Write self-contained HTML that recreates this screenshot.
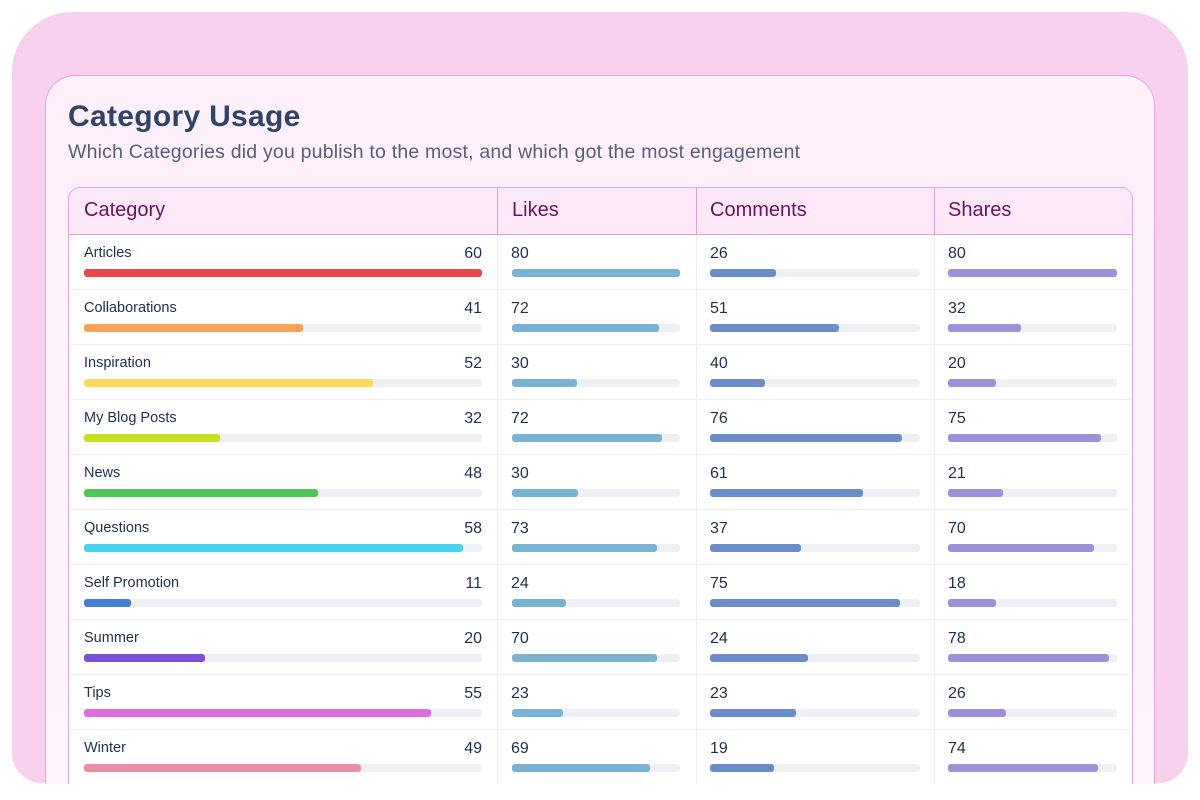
<!DOCTYPE html>
<html><head><meta charset="utf-8"><style>
body{margin:0;width:1200px;height:800px;background:#fff;position:relative;overflow:hidden;font-family:"Liberation Sans",sans-serif}
.outer{position:absolute;left:12px;top:12px;width:1176px;height:771px;background:#f7d0ee;border-radius:60px 60px 30px 30px}
.card{position:absolute;left:45px;top:75px;width:1108px;height:720px;background:linear-gradient(#fdf0fb,#fdf3fb);border:1px solid #e6a6dc;border-bottom:none;border-radius:30px 30px 0 0}
.t{position:absolute;left:68px;top:100px;font-size:30px;font-weight:bold;color:#2f4469;letter-spacing:0.3px;white-space:nowrap}
.s{position:absolute;left:68px;top:141px;font-size:19.5px;color:#56607a;letter-spacing:0.2px;white-space:nowrap}
.tbl{position:absolute;left:68px;top:187px;width:1063px;height:597px;background:#fff;border:1px solid #e4a8dc;border-bottom:none;border-radius:12px 12px 0 0;overflow:hidden}
.hd{position:absolute;left:0;top:0;width:1063px;height:46px;background:#fde8f9;border-bottom:1px solid #dca2d4}
.hd span{position:absolute;top:11px;font-size:20px;color:#6b1458;white-space:nowrap}
.vl{position:absolute;top:0;width:1px;height:597px;background:#eceef0}
.vh{position:absolute;top:0;width:1px;height:46px;background:#dca2d4}
.hl{position:absolute;left:0;width:1063px;height:1px;background:#eceef0}
.l{position:absolute;font-size:14.5px;color:#1f2f4f;line-height:18px;white-space:nowrap;margin-top:-1px}
.n{position:absolute;font-size:16px;color:#1f2f4f;line-height:18px;white-space:nowrap}
.tr{position:absolute;height:8px;background:#eef0f3;border-radius:3px}
.f{position:absolute;left:0;top:0;height:8px;border-radius:3px}
</style></head><body>
<div class="outer"></div>
<div class="card"></div>
<div class="t">Category Usage</div>
<div class="s">Which Categories did you publish to the most, and which got the most engagement</div>
<div class="tbl">
<div class="hd"><span style="left:15px">Category</span><span style="left:443px">Likes</span><span style="left:641px">Comments</span><span style="left:879px">Shares</span></div>
<div class="vh" style="left:428px"></div><div class="vh" style="left:627px"></div><div class="vh" style="left:865px"></div>
<div class="vl" style="left:428px;top:47px"></div><div class="vl" style="left:627px;top:47px"></div><div class="vl" style="left:865px;top:47px"></div>
</div>
<div style="position:absolute;left:0;top:0">
<div class="hl" style="position:absolute;left:69px;top:289px;width:1062px"></div>
<div class="hl" style="position:absolute;left:69px;top:344px;width:1062px"></div>
<div class="hl" style="position:absolute;left:69px;top:399px;width:1062px"></div>
<div class="hl" style="position:absolute;left:69px;top:454px;width:1062px"></div>
<div class="hl" style="position:absolute;left:69px;top:509px;width:1062px"></div>
<div class="hl" style="position:absolute;left:69px;top:564px;width:1062px"></div>
<div class="hl" style="position:absolute;left:69px;top:619px;width:1062px"></div>
<div class="hl" style="position:absolute;left:69px;top:674px;width:1062px"></div>
<div class="hl" style="position:absolute;left:69px;top:729px;width:1062px"></div>

<div class="l" style="left:84px;top:245px">Articles</div><div class="n" style="left:440px;top:245px;width:42px;text-align:right">60</div>
<div class="tr" style="left:84px;top:269px;width:398px"><div class="f" style="width:398px;background:#e8474c"></div></div>
<div class="n" style="left:511px;top:245px">80</div><div class="tr" style="left:512px;top:269px;width:168px"><div class="f" style="width:168px;background:#78b3d3"></div></div>
<div class="n" style="left:710px;top:245px">26</div><div class="tr" style="left:710px;top:269px;width:210px"><div class="f" style="width:66px;background:#6a8cc8"></div></div>
<div class="n" style="left:948px;top:245px">80</div><div class="tr" style="left:948px;top:269px;width:169px"><div class="f" style="width:169px;background:#9e8fd9"></div></div>

<div class="l" style="left:84px;top:300px">Collaborations</div><div class="n" style="left:440px;top:300px;width:42px;text-align:right">41</div>
<div class="tr" style="left:84px;top:324px;width:398px"><div class="f" style="width:219px;background:#f7a256"></div></div>
<div class="n" style="left:511px;top:300px">72</div><div class="tr" style="left:512px;top:324px;width:168px"><div class="f" style="width:147px;background:#78b3d3"></div></div>
<div class="n" style="left:710px;top:300px">51</div><div class="tr" style="left:710px;top:324px;width:210px"><div class="f" style="width:129px;background:#6a8cc8"></div></div>
<div class="n" style="left:948px;top:300px">32</div><div class="tr" style="left:948px;top:324px;width:169px"><div class="f" style="width:73px;background:#9e8fd9"></div></div>

<div class="l" style="left:84px;top:355px">Inspiration</div><div class="n" style="left:440px;top:355px;width:42px;text-align:right">52</div>
<div class="tr" style="left:84px;top:379px;width:398px"><div class="f" style="width:289px;background:#fcd95a"></div></div>
<div class="n" style="left:511px;top:355px">30</div><div class="tr" style="left:512px;top:379px;width:168px"><div class="f" style="width:65px;background:#78b3d3"></div></div>
<div class="n" style="left:710px;top:355px">40</div><div class="tr" style="left:710px;top:379px;width:210px"><div class="f" style="width:55px;background:#6a8cc8"></div></div>
<div class="n" style="left:948px;top:355px">20</div><div class="tr" style="left:948px;top:379px;width:169px"><div class="f" style="width:48px;background:#9e8fd9"></div></div>

<div class="l" style="left:84px;top:410px">My Blog Posts</div><div class="n" style="left:440px;top:410px;width:42px;text-align:right">32</div>
<div class="tr" style="left:84px;top:434px;width:398px"><div class="f" style="width:136px;background:#c5e01e"></div></div>
<div class="n" style="left:511px;top:410px">72</div><div class="tr" style="left:512px;top:434px;width:168px"><div class="f" style="width:150px;background:#78b3d3"></div></div>
<div class="n" style="left:710px;top:410px">76</div><div class="tr" style="left:710px;top:434px;width:210px"><div class="f" style="width:192px;background:#6a8cc8"></div></div>
<div class="n" style="left:948px;top:410px">75</div><div class="tr" style="left:948px;top:434px;width:169px"><div class="f" style="width:153px;background:#9e8fd9"></div></div>

<div class="l" style="left:84px;top:465px">News</div><div class="n" style="left:440px;top:465px;width:42px;text-align:right">48</div>
<div class="tr" style="left:84px;top:489px;width:398px"><div class="f" style="width:234px;background:#52c558"></div></div>
<div class="n" style="left:511px;top:465px">30</div><div class="tr" style="left:512px;top:489px;width:168px"><div class="f" style="width:66px;background:#78b3d3"></div></div>
<div class="n" style="left:710px;top:465px">61</div><div class="tr" style="left:710px;top:489px;width:210px"><div class="f" style="width:153px;background:#6a8cc8"></div></div>
<div class="n" style="left:948px;top:465px">21</div><div class="tr" style="left:948px;top:489px;width:169px"><div class="f" style="width:55px;background:#9e8fd9"></div></div>

<div class="l" style="left:84px;top:520px">Questions</div><div class="n" style="left:440px;top:520px;width:42px;text-align:right">58</div>
<div class="tr" style="left:84px;top:544px;width:398px"><div class="f" style="width:379px;background:#45d3ef"></div></div>
<div class="n" style="left:511px;top:520px">73</div><div class="tr" style="left:512px;top:544px;width:168px"><div class="f" style="width:145px;background:#78b3d3"></div></div>
<div class="n" style="left:710px;top:520px">37</div><div class="tr" style="left:710px;top:544px;width:210px"><div class="f" style="width:91px;background:#6a8cc8"></div></div>
<div class="n" style="left:948px;top:520px">70</div><div class="tr" style="left:948px;top:544px;width:169px"><div class="f" style="width:146px;background:#9e8fd9"></div></div>

<div class="l" style="left:84px;top:575px">Self Promotion</div><div class="n" style="left:440px;top:575px;width:42px;text-align:right">11</div>
<div class="tr" style="left:84px;top:599px;width:398px"><div class="f" style="width:47px;background:#437fd8"></div></div>
<div class="n" style="left:511px;top:575px">24</div><div class="tr" style="left:512px;top:599px;width:168px"><div class="f" style="width:54px;background:#78b3d3"></div></div>
<div class="n" style="left:710px;top:575px">75</div><div class="tr" style="left:710px;top:599px;width:210px"><div class="f" style="width:190px;background:#6a8cc8"></div></div>
<div class="n" style="left:948px;top:575px">18</div><div class="tr" style="left:948px;top:599px;width:169px"><div class="f" style="width:48px;background:#9e8fd9"></div></div>

<div class="l" style="left:84px;top:630px">Summer</div><div class="n" style="left:440px;top:630px;width:42px;text-align:right">20</div>
<div class="tr" style="left:84px;top:654px;width:398px"><div class="f" style="width:121px;background:#7b4fd6"></div></div>
<div class="n" style="left:511px;top:630px">70</div><div class="tr" style="left:512px;top:654px;width:168px"><div class="f" style="width:145px;background:#78b3d3"></div></div>
<div class="n" style="left:710px;top:630px">24</div><div class="tr" style="left:710px;top:654px;width:210px"><div class="f" style="width:98px;background:#6a8cc8"></div></div>
<div class="n" style="left:948px;top:630px">78</div><div class="tr" style="left:948px;top:654px;width:169px"><div class="f" style="width:161px;background:#9e8fd9"></div></div>

<div class="l" style="left:84px;top:685px">Tips</div><div class="n" style="left:440px;top:685px;width:42px;text-align:right">55</div>
<div class="tr" style="left:84px;top:709px;width:398px"><div class="f" style="width:347px;background:#de6ee0"></div></div>
<div class="n" style="left:511px;top:685px">23</div><div class="tr" style="left:512px;top:709px;width:168px"><div class="f" style="width:51px;background:#78b3d3"></div></div>
<div class="n" style="left:710px;top:685px">23</div><div class="tr" style="left:710px;top:709px;width:210px"><div class="f" style="width:86px;background:#6a8cc8"></div></div>
<div class="n" style="left:948px;top:685px">26</div><div class="tr" style="left:948px;top:709px;width:169px"><div class="f" style="width:58px;background:#9e8fd9"></div></div>

<div class="l" style="left:84px;top:740px">Winter</div><div class="n" style="left:440px;top:740px;width:42px;text-align:right">49</div>
<div class="tr" style="left:84px;top:764px;width:398px"><div class="f" style="width:277px;background:#ea8ea3"></div></div>
<div class="n" style="left:511px;top:740px">69</div><div class="tr" style="left:512px;top:764px;width:168px"><div class="f" style="width:138px;background:#78b3d3"></div></div>
<div class="n" style="left:710px;top:740px">19</div><div class="tr" style="left:710px;top:764px;width:210px"><div class="f" style="width:64px;background:#6a8cc8"></div></div>
<div class="n" style="left:948px;top:740px">74</div><div class="tr" style="left:948px;top:764px;width:169px"><div class="f" style="width:150px;background:#9e8fd9"></div></div>
</div>
<div style="position:absolute;left:0;top:784px;width:1200px;height:16px;background:#fff"></div>
</body></html>
